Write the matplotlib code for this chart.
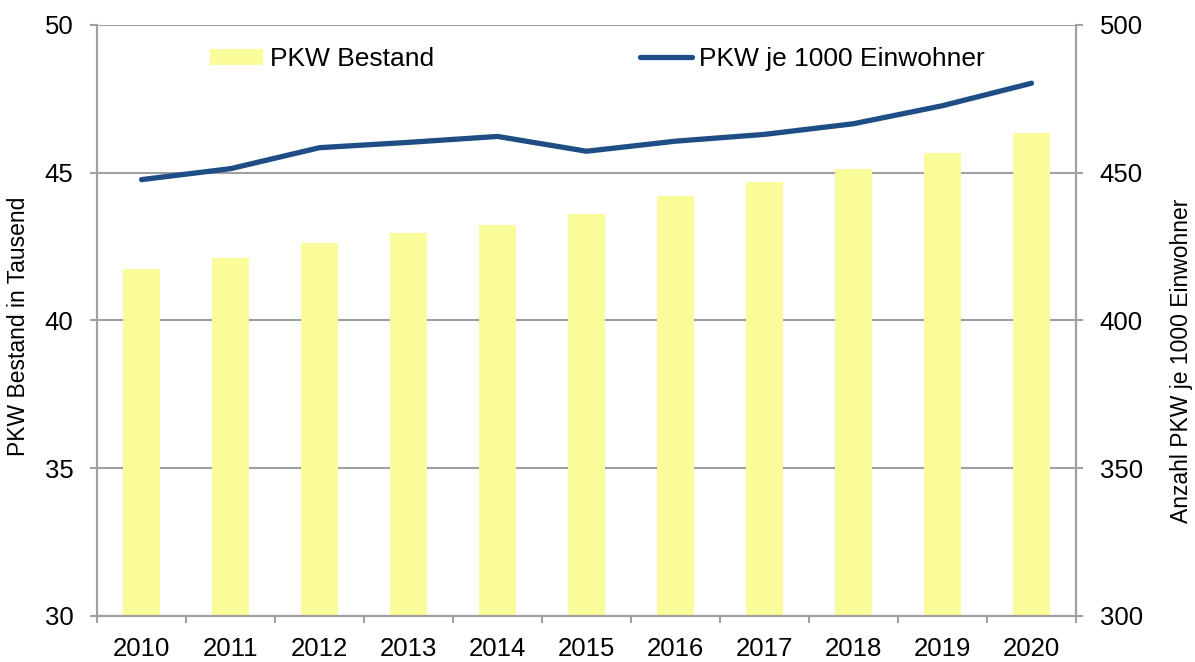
import matplotlib.pyplot as plt
import numpy as np

plt.rcParams['font.family'] = ['Liberation Sans', 'DejaVu Sans']

years = ['2010', '2011', '2012', '2013', '2014', '2015',
         '2016', '2017', '2018', '2019', '2020']
pkw_bestand = [41.72, 42.10, 42.63, 42.94, 43.24, 43.60,
               44.22, 44.67, 45.12, 45.65, 46.33]
pkw_je_1000 = [447.6, 451.3, 458.4, 460.2, 462.2, 457.2,
               460.6, 462.9, 466.5, 472.6, 480.2]

bar_color = '#FAFC9A'
line_color = '#1F4E86'
grid_color = '#A0A0A0'

fig = plt.figure(figsize=(11.95, 6.62), dpi=100)
ax = fig.add_axes([0.0812, 0.0695, 0.8192, 0.8932])
ax2 = ax.twinx()

x = np.arange(len(years))
bars = ax.bar(x, pkw_bestand, width=0.41, color=bar_color, zorder=2,
              label='PKW Bestand')
line, = ax2.plot(x, pkw_je_1000, color=line_color, lw=3.8,
                 solid_capstyle='round', label='PKW je 1000 Einwohner')

ax.set_xlim(-0.5, len(years) - 0.5)
ax.set_ylim(30, 50)
ax2.set_ylim(300, 500)
ax.set_yticks([30, 35, 40, 45, 50])
ax2.set_yticks([300, 350, 400, 450, 500])

# category ticks sit between the bars, labels centred under them
ax.set_xticks(np.arange(-0.5, len(years)), minor=False)
ax.set_xticklabels([])
ax.set_xticks(x, minor=True)
ax.set_xticklabels(years, minor=True)
ax.tick_params(axis='x', which='minor', length=0, pad=15, labelsize=18.5)
ax.tick_params(axis='x', which='major', length=5, width=1.5, color=grid_color)

ax.tick_params(axis='y', length=5, width=1.5, color=grid_color, labelsize=18.5, pad=12)
ax2.tick_params(axis='y', length=5, width=1.5, color=grid_color, labelsize=18.5, pad=12)

ax.yaxis.grid(True, color=grid_color, lw=1.5, zorder=0)
ax.set_axisbelow(True)

for a in (ax, ax2):
    a.spines['top'].set_visible(False)
    for s in ('left', 'right', 'bottom'):
        a.spines[s].set_color(grid_color)
        a.spines[s].set_linewidth(1.5)

ax.set_ylabel('PKW Bestand in Tausend', fontsize=16.5)
ax2.set_ylabel('Anzahl PKW je 1000 Einwohner', fontsize=16.5)
ax.yaxis.set_label_coords(-0.068, 0.49)
ax2.yaxis.set_label_coords(1.096, 0.431)

fig.legend([bars, line], ['PKW Bestand', 'PKW je 1000 Einwohner'],
           loc='center', bbox_to_anchor=(0.5, 0.911), ncol=2, frameon=False,
           fontsize=19, handlelength=2.0, handleheight=0.55, handletextpad=0.25,
           columnspacing=7.8)

fig.savefig('out.png', dpi=100)
